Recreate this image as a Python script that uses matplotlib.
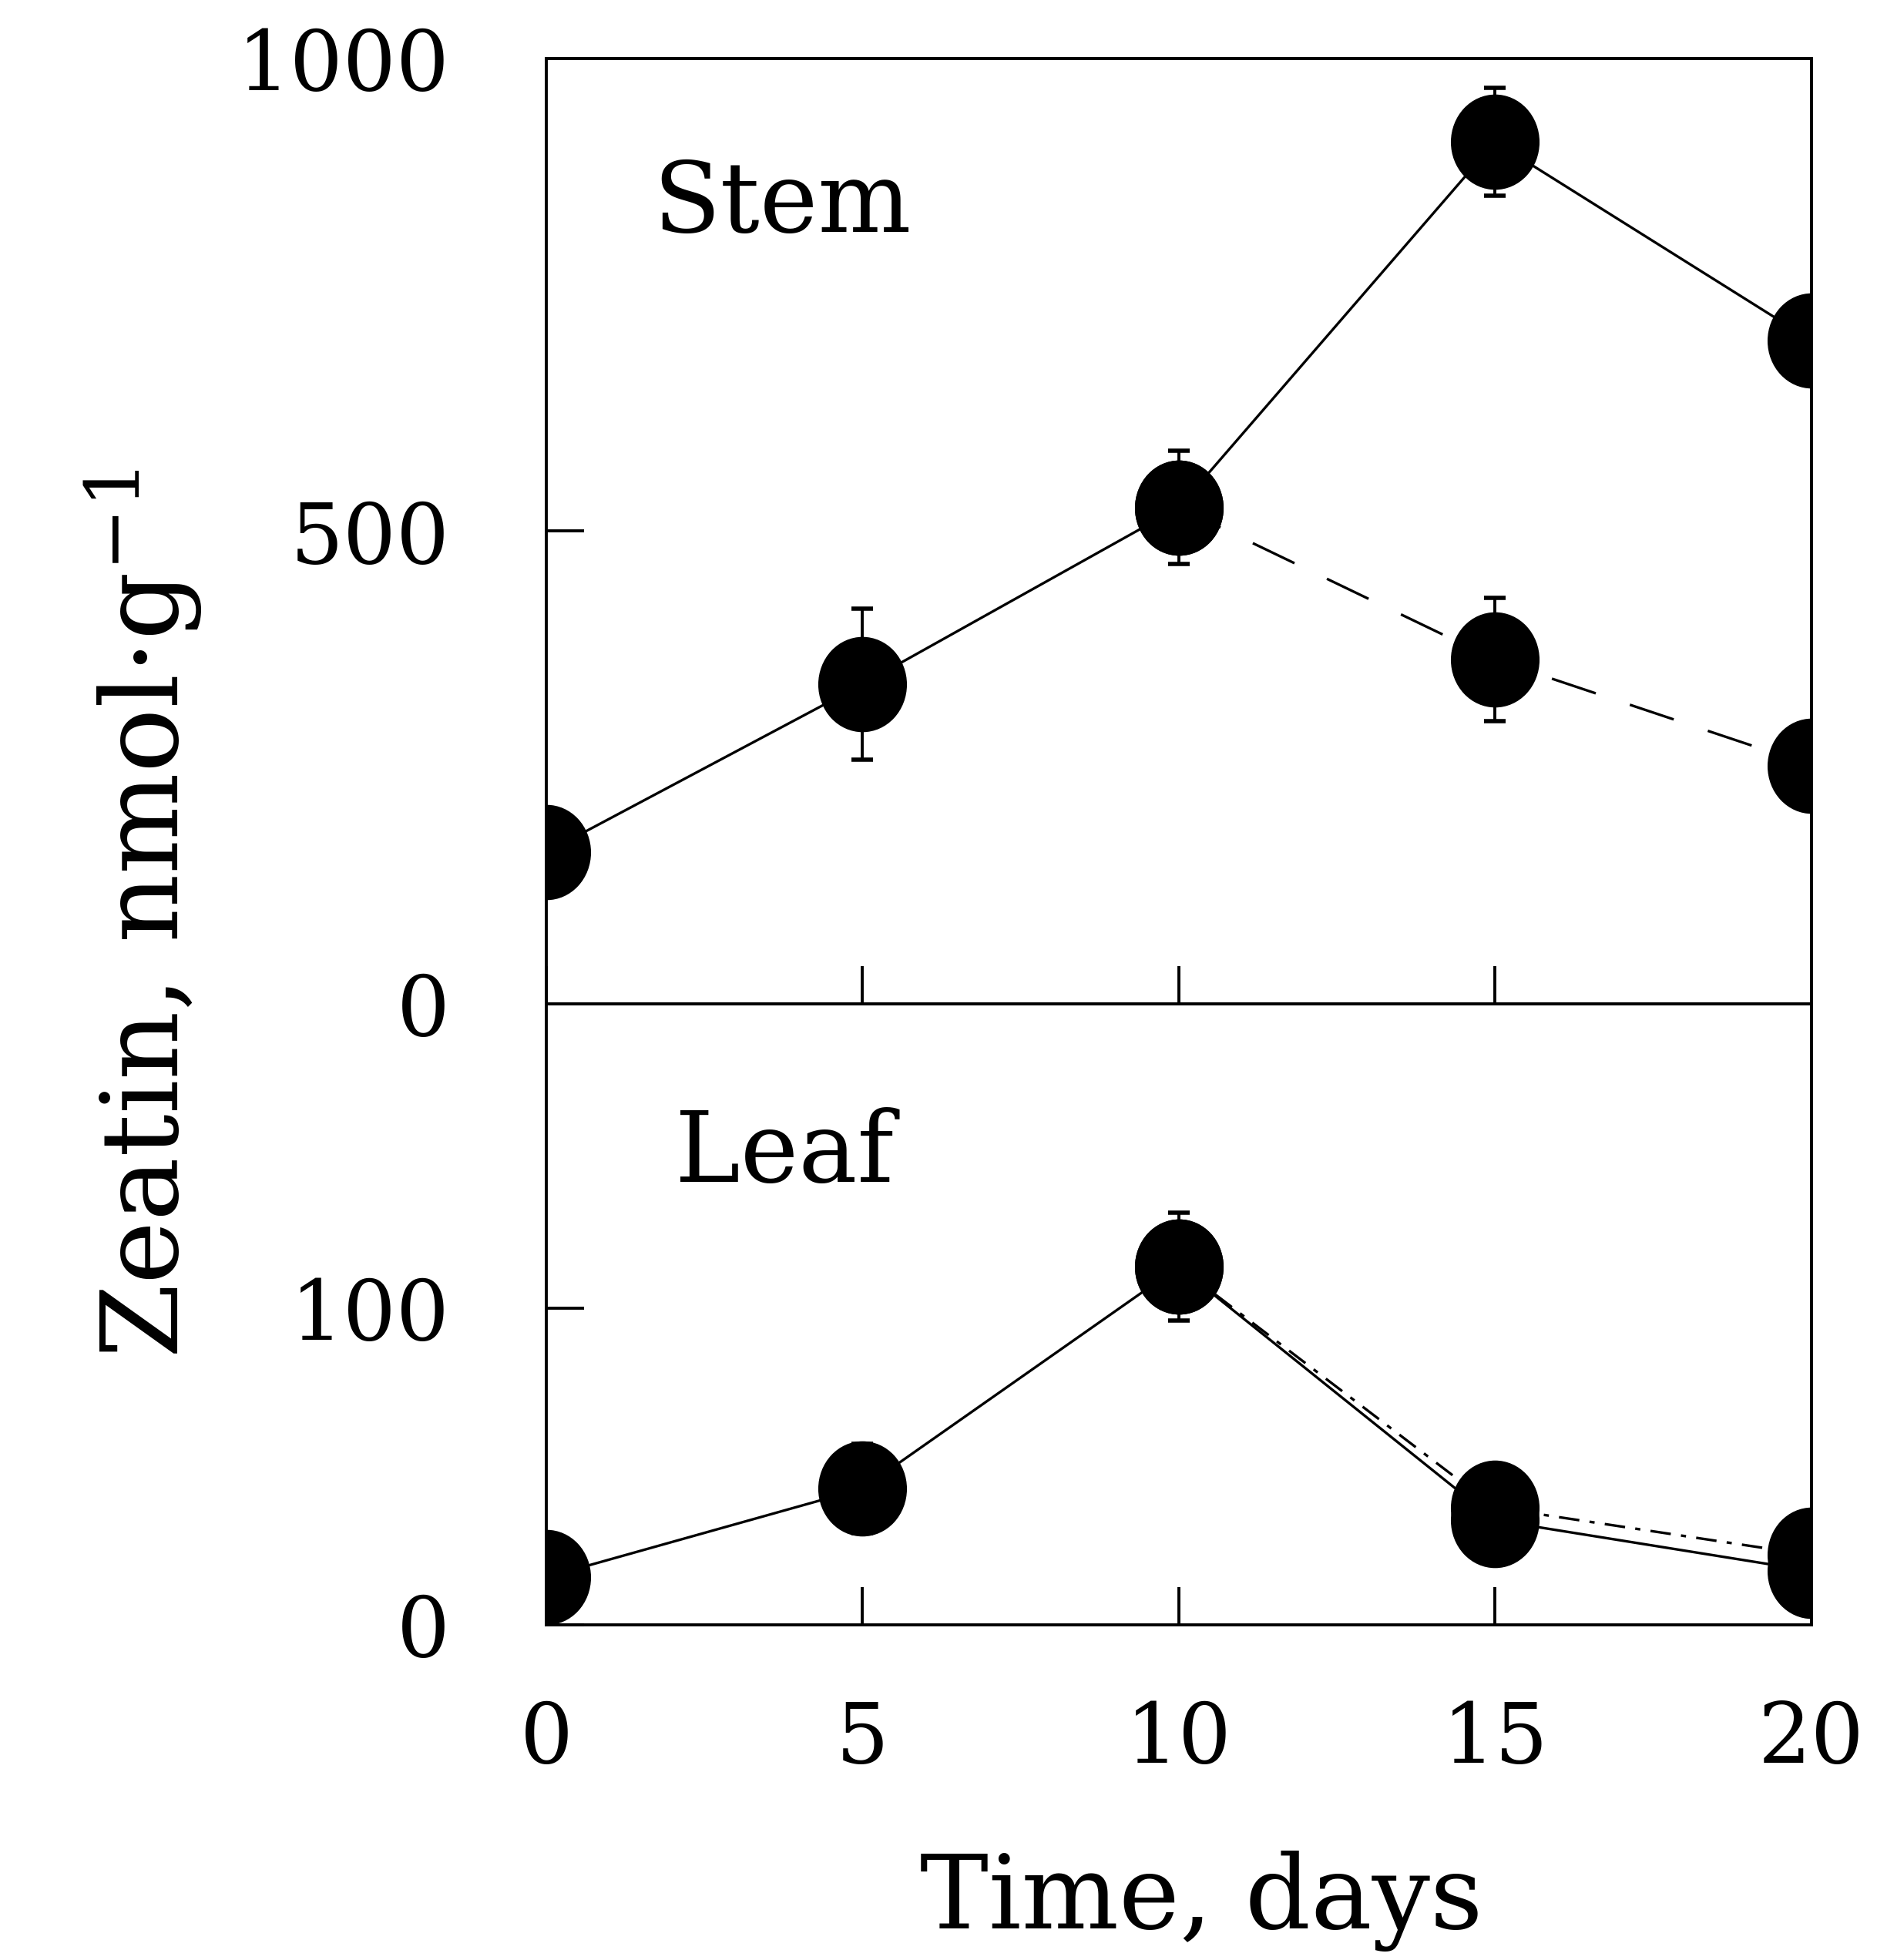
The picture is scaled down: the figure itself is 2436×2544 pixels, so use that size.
import numpy as np
import matplotlib
matplotlib.use("Agg")
import matplotlib.pyplot as plt
from matplotlib.path import Path
from matplotlib.transforms import Affine2D

# data
days = [0, 5, 10, 15, 20]
stem_a = [160, 338, 525, 912, 702]
stem_a_err = [0, 80, 60, 57, 0]
days_b = [10, 15, 20]
stem_b = [525, 364, 252]
stem_b_err = [0, 65, 0]
leaf_a = [15, 43, 113, 33, 17]
leaf_a_err = [0, 14, 17, 0, 0]
leaf_b = [113, 37, 22]

stem_yticks = [0, 500, 1000]
leaf_yticks = [0, 100]
xticks = [0, 5, 10, 15, 20]

plt.rcParams["font.family"] = "DejaVu Serif"
plt.rcParams["mathtext.fontset"] = "dejavuserif"

# slightly tall ellipse marker
dot = Path.unit_circle().transformed(Affine2D().scale(0.93, 1.0))

fig = plt.figure(figsize=(24.36, 25.44), dpi=100)
ax1 = fig.add_axes([0.291, 0.488, 0.674, 0.482])
ax2 = fig.add_axes([0.291, 0.171, 0.674, 0.317])

line_kw = dict(color="black", lw=2.4)
mark_kw = dict(marker=dot, markersize=88, color="black", ls="none", zorder=3)
err_kw = dict(fmt="none", ecolor="black", elinewidth=2.8, capsize=10, capthick=4, zorder=2)

# Stem
ax1.plot(days_b, stem_b, dashes=(18, 14), zorder=1, **line_kw)
ax1.plot(days, stem_a, zorder=1, **line_kw)
ax1.errorbar(days, stem_a, yerr=stem_a_err, **err_kw)
ax1.errorbar(days_b, stem_b, yerr=stem_b_err, **err_kw)
ax1.plot(days, stem_a, **mark_kw)
ax1.plot(days_b, stem_b, **mark_kw)

# Leaf
ax2.plot(days_b, leaf_b, dashes=(8, 4, 2, 4), zorder=1, **line_kw)
ax2.plot(days, leaf_a, zorder=1, **line_kw)
ax2.errorbar(days, leaf_a, yerr=leaf_a_err, **err_kw)
ax2.plot(days, leaf_a, **mark_kw)
ax2.plot(days_b, leaf_b, **mark_kw)

ax1.set_xlim(0, 20)
ax2.set_xlim(0, 20)
ax1.set_ylim(0, 1000)
ax2.set_ylim(0, 196)

ax1.set_yticks(stem_yticks)
ax1.set_yticklabels([str(v) for v in stem_yticks])
ax2.set_yticks(leaf_yticks)
ax2.set_yticklabels([str(v) for v in leaf_yticks])
ax1.set_xticks(xticks)
ax1.set_xticklabels([])
ax2.set_xticks(xticks)
ax2.set_xticklabels([str(v) for v in xticks])

for ax in (ax1, ax2):
    for sp in ax.spines.values():
        sp.set_linewidth(2.8)
    ax.tick_params(axis="both", direction="in", length=35, width=2.8, labelsize=78)
    ax.tick_params(axis="y", pad=90)
    ax.tick_params(axis="x", pad=70)

ax1.text(0.084, 0.817, "Stem", transform=ax1.transAxes, fontsize=92, va="baseline")
ax2.text(0.102, 0.713, "Leaf", transform=ax2.transAxes, fontsize=92, va="baseline")

fig.text(0.64, 0.016, "Time, days", fontsize=96, ha="center", va="baseline")
fig.text(0.0768, 0.534, "Zeatin, nmol·g$^{-1}$", fontsize=100, rotation=90,
         ha="center", va="center")

fig.savefig("out.png", dpi=100)
